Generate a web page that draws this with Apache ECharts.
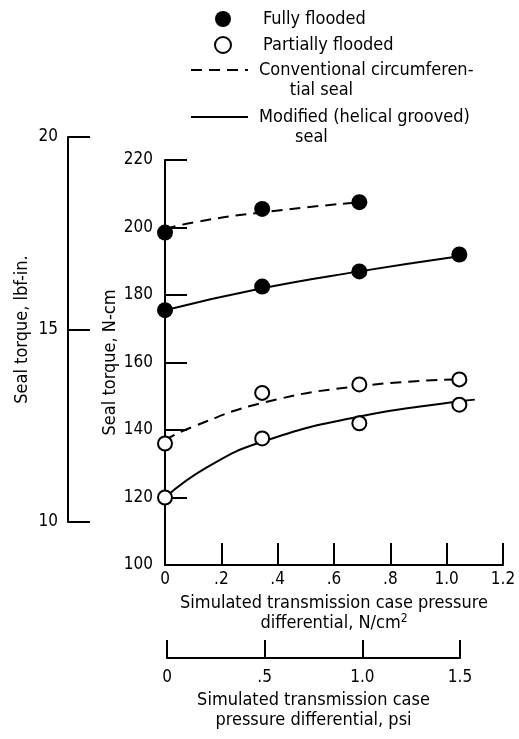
<!DOCTYPE html>
<html>
<head>
<meta charset="utf-8">
<script src="https://cdn.jsdelivr.net/npm/echarts@6/dist/echarts.min.js"></script>
<style>
  html, body { margin: 0; padding: 0; background: #fff; }
  #chart { width: 519px; height: 739px; }
</style>
</head>
<body>
<div id="chart"></div>
<script>
// pressure differential, N/cm2, where the points were taken
var xPts = [0, 0.345, 0.69, 1.045];
// seal torque, N-cm
var fullConv = [198.5, 205.5, 207.5];
var fullMod = [175.5, 182.5, 187, 192];
var partConv = [136, 151, 153.5, 155];
var partMod = [120, 137.5, 142, 147.5];

// faired curves as drawn
var fullConvCurveX = [0, 0.1, 0.345, 0.69];
var fullConvCurve = [199.5, 201.5, 204.5, 207.5];
var fullModCurveX = [0, 0.345, 0.69, 1.045];
var fullModCurve = [175.5, 182, 187, 191.5];
var partConvCurveX = [0, 0.1, 0.345, 0.69, 1.045];
var partConvCurve = [137, 141, 148, 153, 155];
var partModCurveX = [0, 0.15, 0.345, 0.69, 1.045, 1.1];
var partModCurve = [120, 129, 136.5, 144, 148.5, 149];

var xTicks = ['0', '.2', '.4', '.6', '.8', '1.0', '1.2'];
var psiTicks = ['0', '.5', '1.0', '1.5'];
var lbfTicks = ['10', '15', '20'];

var FONT = '"Liberation Sans Narrow", "DejaVu Sans Condensed", sans-serif';
var legendText = {
  'Conventional circumferential seal': '\nConventional circumferen-\n      tial seal',
  'Modified (helical grooved) seal': '\nModified (helical grooved)\n       seal'
};

function pairs(xs, ys) {
  return ys.map(function (y, i) { return [xs[i], y]; });
}

var myChart = echarts.init(document.getElementById('chart'));

var axisLine = { show: true, lineStyle: { color: '#000', width: 2 } };
var axisTick = { show: true, inside: true, length: 22, lineStyle: { color: '#000', width: 2 } };
var label = { color: '#000', fontFamily: FONT, fontSize: 17 };
var nameStyle = { fontFamily: FONT, fontSize: 18, color: '#000', lineHeight: 20 };
var filled = { color: '#000', opacity: 1 };
var hollow = { color: '#fff', borderColor: '#000', borderWidth: 2, opacity: 1 };

myChart.setOption({
  backgroundColor: '#fff',
  animation: false,
  textStyle: { fontFamily: FONT, color: '#000' },
  grid: [
    { left: 165, top: 160, right: 16, bottom: 174 },
    { left: 68, top: 137, width: 30, bottom: 217 },
    { left: 167, width: 293, top: 600, bottom: 81 }
  ],
  legend: [
    {
      data: ['Fully flooded', 'Partially flooded'],
      orient: 'vertical', left: 214, top: 10, padding: 0,
      itemWidth: 16, itemHeight: 16, itemGap: 8,
      textStyle: { fontFamily: FONT, fontSize: 18, color: '#000', padding: [0, 0, 0, 27] }
    },
    {
      data: ['Conventional circumferential seal'],
      orient: 'vertical', left: 190, top: 40, padding: 0,
      itemWidth: 57, itemHeight: 14,
      itemStyle: { opacity: 0 },
      formatter: function (n) { return legendText[n]; },
      textStyle: { fontFamily: FONT, fontSize: 18, color: '#000', lineHeight: 20, padding: [0, 0, 0, 6] }
    },
    {
      data: ['Modified (helical grooved) seal'],
      orient: 'vertical', left: 190, top: 87, padding: 0,
      itemWidth: 57, itemHeight: 14,
      itemStyle: { opacity: 0 },
      formatter: function (n) { return legendText[n]; },
      textStyle: { fontFamily: FONT, fontSize: 18, color: '#000', lineHeight: 20, padding: [0, 0, 0, 6] }
    }
  ],
  xAxis: [
    {
      gridIndex: 0, type: 'value', min: 0, max: 1.2, interval: 0.2,
      axisLine: axisLine, axisTick: axisTick, splitLine: { show: false },
      axisLabel: Object.assign({ margin: 6, formatter: function (v, i) { return xTicks[i]; } }, label),
      name: 'Simulated transmission case pressure\ndifferential, N/cm{sup|2}',
      nameLocation: 'middle', nameGap: 28, nameMoveOverlap: false,
      nameTextStyle: Object.assign({
        rich: { sup: { fontFamily: FONT, fontSize: 12, color: '#000', padding: [0, 0, 8, 0] } } }, nameStyle)
    },
    { gridIndex: 1, type: 'value', show: false, min: 0, max: 1 },
    {
      gridIndex: 2, type: 'value', min: 0, max: 1.5, interval: 0.5,
      axisLine: axisLine, axisTick: Object.assign({}, axisTick, { length: 18 }), splitLine: { show: false },
      axisLabel: Object.assign({ margin: 11, formatter: function (v, i) { return psiTicks[i]; } }, label),
      name: 'Simulated transmission case\npressure differential, psi',
      nameLocation: 'middle', nameGap: 32, nameMoveOverlap: false,
      nameTextStyle: nameStyle
    }
  ],
  yAxis: [
    {
      gridIndex: 0, type: 'value', min: 100, max: 220, interval: 20,
      axisLine: axisLine, axisTick: axisTick, splitLine: { show: false },
      axisLabel: Object.assign({ margin: 12 }, label),
      name: 'Seal torque, N-cm', nameLocation: 'middle', nameGap: 45, nameMoveOverlap: false,
      nameTextStyle: nameStyle
    },
    {
      gridIndex: 1, type: 'value', min: 10, max: 20, interval: 5,
      axisLine: axisLine, axisTick: axisTick, splitLine: { show: false },
      axisLabel: Object.assign({ margin: 10, formatter: function (v, i) { return lbfTicks[i]; } }, label),
      name: 'Seal torque, lbf-in.', nameLocation: 'middle', nameGap: 36, nameMoveOverlap: false,
      nameTextStyle: nameStyle
    },
    { gridIndex: 2, type: 'value', show: false, min: 0, max: 1 }
  ],
  series: [
    { name: 'Conventional circumferential seal', type: 'line', smooth: true, symbol: 'none',
      lineStyle: { color: '#000', width: 2, type: [11, 7] }, data: pairs(fullConvCurveX, fullConvCurve) },
    { name: 'Conventional circumferential seal', type: 'line', smooth: true, symbol: 'none',
      lineStyle: { color: '#000', width: 2, type: [11, 7] }, data: pairs(partConvCurveX, partConvCurve) },
    { name: 'Modified (helical grooved) seal', type: 'line', smooth: true, symbol: 'none',
      lineStyle: { color: '#000', width: 2 }, data: pairs(fullModCurveX, fullModCurve) },
    { name: 'Modified (helical grooved) seal', type: 'line', smooth: true, symbol: 'none',
      lineStyle: { color: '#000', width: 2 }, data: pairs(partModCurveX, partModCurve) },
    { name: 'Fully flooded', type: 'scatter', symbolSize: 16, z: 5,
      itemStyle: filled, data: pairs(xPts, fullConv) },
    { name: 'Fully flooded', type: 'scatter', symbolSize: 16, z: 5,
      itemStyle: filled, data: pairs(xPts, fullMod) },
    { name: 'Partially flooded', type: 'scatter', symbolSize: 14, z: 5,
      itemStyle: hollow, data: pairs(xPts, partConv) },
    { name: 'Partially flooded', type: 'scatter', symbolSize: 14, z: 5,
      itemStyle: hollow, data: pairs(xPts, partMod) }
  ]
});
</script>
</body>
</html>
